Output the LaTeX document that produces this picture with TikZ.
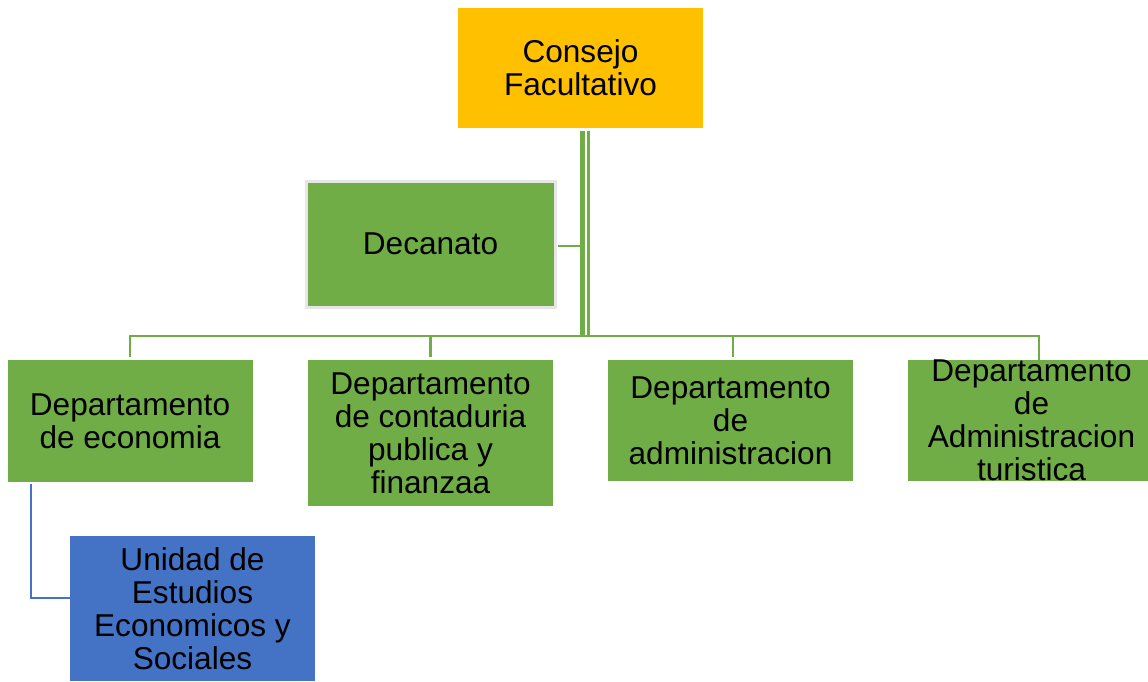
\documentclass[tikz,border=0pt]{standalone}
\usepackage{fontspec}
\setmainfont{Liberation Sans}
\definecolor{orgC}{HTML}{FFC000}
\definecolor{grnC}{HTML}{70AD47}
\definecolor{bluC}{HTML}{4472C4}
\definecolor{brdC}{HTML}{E6E6E6}
\tikzset{
  box/.style={rectangle, inner sep=0pt, align=center, text=black,
    font=\fontsize{31.6}{33}\selectfont},
  gbox/.style={box, fill=grnC, minimum width=245pt},
  gline/.style={draw=grnC, line width=2.8pt},
  bline/.style={draw=bluC, line width=2.4pt},
}
\begin{document}
\begin{tikzpicture}[x=1pt,y=-1pt]
\useasboundingbox (0,0) rectangle (1148,681);
\node[box, fill=orgC, minimum width=245pt, minimum height=120pt] (cf) at (580.5,68) {Consejo\\Facultativo};
\node[box, fill=grnC, draw=brdC, line width=3pt, minimum width=249pt, minimum height=126pt] (dec) at (430.5,244) {Decanato};
\node[gbox, minimum height=122pt] (e1) at (130,421) {Departamento\\de economia};
\node[gbox, minimum height=146pt] (e2) at (430.5,433) {Departamento\\de contaduria\\publica y\\finanzaa};
\node[gbox, minimum height=121pt] (e3) at (730.5,420.5) {Departamento\\de\\administracion};
\node[gbox, minimum width=247pt, minimum height=121pt] (e4) at (1031.5,420.5) {Departamento\\de\\Administracion\\turistica};
\node[box, fill=bluC, minimum width=245pt, minimum height=145pt] (u) at (192.5,608.5) {Unidad de\\Estudios\\Economicos y\\Sociales};
% bus coordinates
\coordinate (busL) at (582,336);
\coordinate (busR) at (588.5,336);
\coordinate (e3c) at ([xshift=2.5pt]e3.north);
\coordinate (e4c) at ([xshift=7.5pt]e4.north);
\coordinate (bc) at (31,598);
% double trunk
\draw[gline, line width=5pt, shorten <=3pt] (cf.south -| busL) -- (busL);
\draw[gline, line width=3pt, shorten <=3pt] (cf.south -| busR) -- (busR);
% decanato link
\draw[gline] ([xshift=1.5pt,yshift=-2pt]dec.east) -- ([yshift=-2pt]dec.east -| busL);
% bus and drops
\draw[gline, shorten <=3pt] (e1.north) -- (e1.north |- busL) -- (e4c |- busL) -- (e4c);
\draw[gline, shorten <=3pt] (e2.north) -- (e2.north |- busL);
\draw[gline, shorten <=3pt] (e3c) -- (e3c |- busL);
% blue link
\draw[bline, shorten <=2pt] (e1.south -| bc) -- (bc) -- (u.west |- bc);
\end{tikzpicture}
\end{document}
